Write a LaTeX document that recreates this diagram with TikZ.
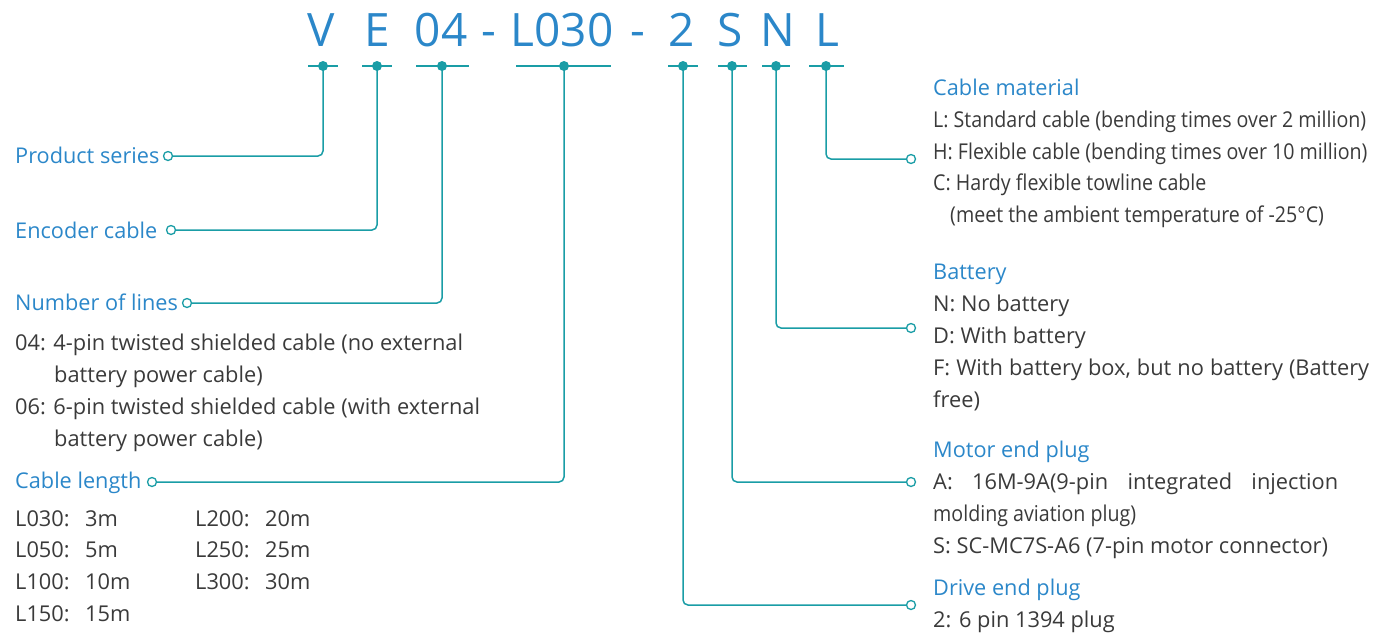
\documentclass[tikz,border=0pt]{standalone}
\usepackage{fontspec}
\setmainfont{Open Sans}
\newfontfamily\condfamily[FakeStretch=0.9]{Open Sans}
\definecolor{tealline}{HTML}{1A9DA6}
\definecolor{bluetxt}{HTML}{2B87C9}
\definecolor{graytxt}{HTML}{3A3A3A}
\newcommand{\codefont}{\fontsize{46}{50}\selectfont}
\newcommand{\lblfont}{\fontsize{21.7}{24}\selectfont}
\newcommand{\bodyfont}{\fontsize{21.8}{24}\selectfont}
\newcommand{\condfont}{\condfamily\fontsize{21.8}{24}\selectfont}
\begin{document}
\begin{tikzpicture}[x=1pt,y=-1pt,
  conn/.style={draw=tealline,line width=1.5pt,rounded corners=5pt},
  tick/.style={draw=tealline,line width=1.5pt},
  dot/.style={circle,fill=tealline,inner sep=0pt,minimum size=10pt},
  ring/.style={circle,draw=tealline,fill=white,line width=1.3pt,inner sep=0pt,minimum size=9pt},
  code/.style={anchor=base,inner sep=0pt,text=bluetxt,font=\codefont},
  lbl/.style={anchor=base west,inner sep=0pt,text=bluetxt,font=\lblfont},
  txt/.style={anchor=base west,inner sep=0pt,text=graytxt,font=\bodyfont},
  ctxt/.style={anchor=base west,inner sep=0pt,text=graytxt,font=\condfont}]
\useasboundingbox (0,0) rectangle (1377,633);

% code letters
\node[code] (cV) at (321,46) {V};
\node[code] (cE) at (377,46) {E};
\node[code] (c04) at (441,46) {04};
\node[code] (cd1) at (489,46) {-};
\node[code] (cL030) at (562,46) {L030};
\node[code] (cd2) at (638,46) {-};
\node[code] (c2) at (682,46) {2};
\node[code] (cS) at (730,46) {S};
\node[code] (cN) at (778,46) {N};
\node[code] (cL) at (827,46) {L};

% ticks
\draw[tick] (308,66) -- (338,66);
\draw[tick] (362,66) -- (392,66);
\draw[tick] (416,66) -- (469,66);
\draw[tick] (516,66) -- (611,66);
\draw[tick] (668,66) -- (698,66);
\draw[tick] (718,66) -- (747,66);
\draw[tick] (762,66) -- (790,66);
\draw[tick] (809,66) -- (844,66);

% dots
\node[dot] (dV) at (323,66) {};
\node[dot] (dE) at (377,66) {};
\node[dot] (d04) at (442,66) {};
\node[dot] (dL030) at (564,66) {};
\node[dot] (d2) at (683,66) {};
\node[dot] (dS) at (732,66) {};
\node[dot] (dN) at (776,66) {};
\node[dot] (dL) at (826,66) {};

% rings
\node[ring] (rV) at (168,156) {};
\node[ring] (rE) at (171,230) {};
\node[ring] (r04) at (187,303) {};
\node[ring] (rL030) at (152,482) {};
\node[ring] (rL) at (911,159) {};
\node[ring] (rN) at (911,328) {};
\node[ring] (rS) at (911,482) {};
\node[ring] (r2) at (911,605) {};

% connectors
\draw[conn] (dV.center) |- (rV);
\draw[conn] (dE.center) |- (rE);
\draw[conn] (d04.center) |- (r04);
\draw[conn] (dL030.center) |- (rL030);
\draw[conn] (d2.center) |- (r2);
\draw[conn] (dS.center) |- (rS);
\draw[conn] (dN.center) |- (rN);
\draw[conn] (dL.center) |- (rL);

% left labels
\node[lbl] (tPS) at (15,163) {Product series};
\node[lbl] (tEC) at (15,238) {Encoder cable};
\node[lbl] (tNL) at (15,310) {Number of lines};
\node[txt] (t04a) at (15,350) {04: 4-pin twisted shielded cable (no external};
\node[txt] (t04b) at (54,382) {battery power cable)};
\node[txt] (t06a) at (15,414) {06: 6-pin twisted shielded cable (with external};
\node[txt] (t06b) at (54,446) {battery power cable)};
\node[lbl] (tCL) at (15,488) {Cable length};
\node[txt] (l1) at (15,526) {\makebox[70pt][l]{L030:}3m};
\node[txt] (l2) at (15,557) {\makebox[70pt][l]{L050:}5m};
\node[txt] (l3) at (15,589) {\makebox[70pt][l]{L100:}10m};
\node[txt] (l4) at (15,621) {\makebox[70pt][l]{L150:}15m};
\node[txt] (l5) at (195,526) {\makebox[70pt][l]{L200:}20m};
\node[txt] (l6) at (195,557) {\makebox[70pt][l]{L250:}25m};
\node[txt] (l7) at (195,589) {\makebox[70pt][l]{L300:}30m};

% right labels
\node[lbl] (tCM) at (933,95) {Cable material};
\node[ctxt] (m1) at (933,127) {L: Standard cable (bending times over 2 million)};
\node[ctxt] (m2) at (933,159) {H: Flexible cable (bending times over 10 million)};
\node[ctxt] (m3) at (933,190) {C: Hardy flexible towline cable};
\node[ctxt] (m4) at (950,222) {(meet the ambient temperature of -25°C)};

\node[lbl] (tB) at (933,279) {Battery};
\node[txt] (b1) at (933,311) {N: No battery};
\node[txt] (b2) at (933,343) {D: With battery};
\node[txt] (b3) at (933,375) {\makebox[436pt][s]{F: With battery box, but no battery (Battery}};
\node[txt] (b4) at (933,407) {free)};

\node[lbl] (tM) at (933,457) {Motor end plug};
\node[txt] (p1) at (933,489) {\makebox[405pt][s]{A: 16M-9A(9-pin integrated injection}};
\node[ctxt] (p2) at (933,521) {molding aviation plug)};
\node[txt] (p3) at (933,553) {S: SC-MC7S-A6 (7-pin motor connector)};

\node[lbl] (tD) at (933,595) {Drive end plug};
\node[txt] (q1) at (933,627) {2: 6 pin 1394 plug};
\end{tikzpicture}
\end{document}
